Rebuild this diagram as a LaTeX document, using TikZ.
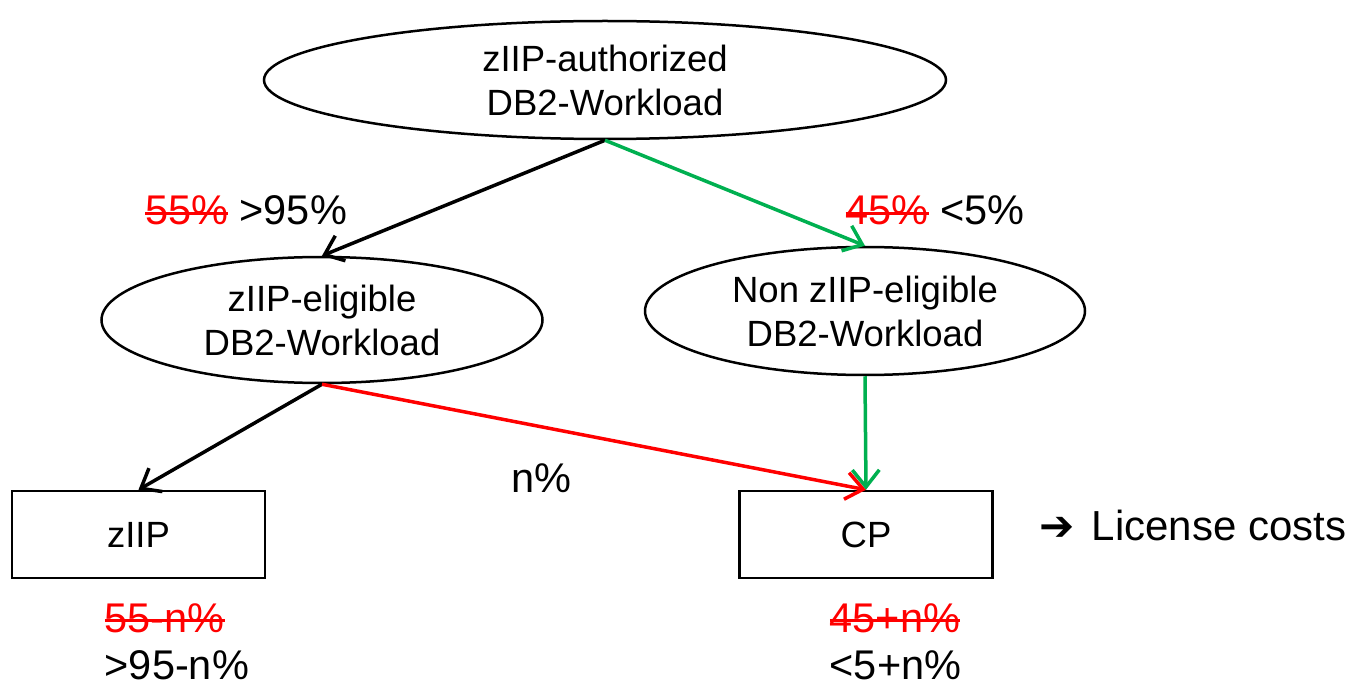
\documentclass[tikz,border=0pt]{standalone}
\usepackage{fontspec}
\setmainfont{Liberation Sans}
\newfontfamily\dingfont{DejaVu Sans}
\usepackage{tikz}
\usetikzlibrary{arrows.meta,shapes.geometric}
\definecolor{pgreen}{RGB}{0,176,80}
\newsavebox{\strikebox}
\newcommand{\cstrike}[1]{\sbox{\strikebox}{\color{red}#1}{\color{red}\rlap{\usebox{\strikebox}}\rule[0.25em]{\wd\strikebox}{3pt}}}

\begin{document}
\begin{tikzpicture}[x=1pt,y=-1pt,>={Straight Barb[length=17pt,width=27pt]},line width=3.5pt]
  \tikzstyle{work}=[ellipse,draw,line width=2.5pt,inner xsep=0pt,inner ysep=-8pt,align=center,font=\fontsize{36.5}{44}\selectfont]
  \tikzstyle{unit}=[rectangle,draw,line width=2.5pt,minimum width=253pt,minimum height=87pt,font=\fontsize{36.5}{44}\selectfont]
  \tikzstyle{share}=[inner sep=0pt,font=\fontsize{41.5}{47}\selectfont]
  \useasboundingbox (0,0) rectangle (1353,687);

  \node[work,minimum width=682pt,minimum height=118pt] (auth) at (605,80)  {zIIP-authorized\\DB2-Workload};
  \node[work,minimum width=441pt,minimum height=126pt] (elig) at (322,320) {zIIP-eligible\\DB2-Workload};
  \node[work,minimum width=440pt,minimum height=128pt] (nonelig) at (865,311) {Non zIIP-eligible\\DB2-Workload};
  \node[unit] (ziip) at (138.5,534.5) {zIIP};
  \node[unit] (cp)   at (866,534.5)   {CP};

  \node[share,anchor=base] (lshare) at (246,225) {\cstrike{55\%} >95\%};
  \node[share,anchor=base] (rshare) at (935,225) {\cstrike{45\%} <5\%};
  \node[share,anchor=base] (npct)   at (541,492) {n\%};
  \node[share,anchor=west,align=left] (zres) at (103,642) {\cstrike{55-n\%}\\>95-n\%};
  \node[share,anchor=west,align=left] (cres) at (828,642) {\cstrike{45+n\%}\\<5+n\%};
  \node[share,anchor=base west,font=\fontsize{42}{47}\selectfont] (cost) at (1038,540) {{\dingfont\bfseries ➔}\hspace{17pt}License costs};

  \path[->] (auth.south) edge                (elig.north)
            (auth.south) edge[pgreen]        (nonelig.north)
            (elig.south) edge                (ziip.north)
            (elig.south) edge[red]           (cp.north)
            (nonelig.south) edge[pgreen]     (cp.north);
\end{tikzpicture}
\end{document}
